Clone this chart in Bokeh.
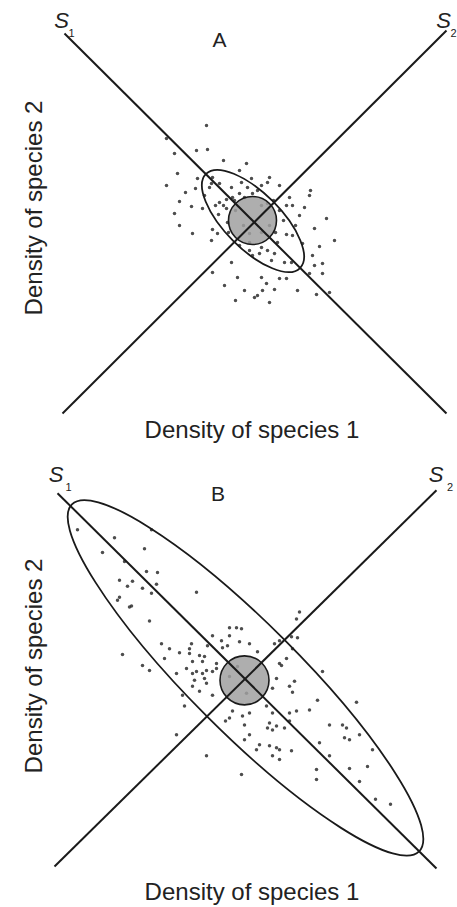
from bokeh.plotting import figure
from bokeh.models import Range1d, FixedTicker
from bokeh.layouts import column
from bokeh.core.properties import value
from bokeh.embed import file_html
from bokeh.resources import INLINE

# ---------------- data (arbitrary density units) ----------------
AXIS_X_LABEL = "Density of species 1"
AXIS_Y_LABEL = "Density of species 2"

# Panel A
a_s1_x = [3.6, 80.0]
a_s1_y = [76.4, 0.4]
a_s2_x = [80.0, 3.2]
a_s2_y = [77.0, 0.4]
a_ell = dict(x=41.3, y=38.9, w=26.6, h=11.2, angle=-45)
a_circ = dict(x=41.2, y=39.0, r=4.8)
a_pts_x = [32.0, 24.0, 32.2, 30.0, 25.6, 35.4, 40.0, 38.6, 26.2, 24.0, 33.2, 32.6, 39.0,
           26.6, 29.0, 31.2, 25.6, 34.6, 36.0, 37.2, 40.2, 41.2, 52.6, 48.6, 51.6, 48.0,
           56.0, 53.6, 57.6, 54.6, 53.2, 55.2, 55.2, 53.6, 37.0, 33.2, 38.2, 35.6, 43.0,
           44.0, 45.6, 48.0, 42.2, 50.2, 54.0, 52.6, 56.6, 46.6, 43.2, 48.0, 49.2, 51.2,
           44.2, 45.6, 45.0, 47.6, 49.0, 42.6, 46.2, 43.0, 44.6, 46.6, 44.2, 52.8, 49.2,
           29.2, 33.2, 33.0, 34.2, 41.6, 40.6, 41.2, 37.6, 38.6, 39.6, 43.0, 44.2, 42.2,
           37.8, 39.4, 40.6, 43.0, 44.6, 36.2, 35.4, 37.0, 41.0, 43.0, 45.4, 46.6, 47.4,
           45.8, 38.6, 40.6, 34.4, 36.4, 36.0, 33.8, 31.6, 33.0, 29.8, 30.2, 34.6, 44.6,
           37.8, 39.6, 50.6, 49.8, 26.6, 27.8]
a_pts_y = [58.0, 55.4, 53.2, 53.0, 52.4, 51.0, 50.4, 49.0, 48.4, 46.0, 47.6, 45.6, 46.6,
           42.8, 41.8, 41.4, 40.4, 42.6, 41.4, 43.6, 45.6, 44.4, 44.0, 43.6, 41.6, 42.0,
           39.4, 37.4, 35.0, 33.8, 32.0, 30.4, 28.4, 30.0, 30.6, 28.6, 27.6, 26.0, 27.6,
           26.4, 25.2, 27.4, 24.0, 25.0, 24.2, 28.4, 24.6, 27.4, 25.0, 36.2, 36.0, 34.4,
           33.0, 32.4, 31.0, 30.6, 30.6, 32.4, 34.6, 33.6, 47.6, 46.0, 46.6, 45.0, 42.0,
           36.4, 37.2, 35.0, 36.4, 23.6, 33.0, 32.0, 43.0, 44.4, 43.6, 42.0, 42.4, 45.0,
           41.0, 38.0, 36.4, 36.6, 38.0, 38.6, 42.0, 45.6, 47.4, 46.0, 43.0, 41.0, 39.0,
           36.6, 34.0, 34.6, 40.2, 36.6, 43.2, 42.0, 44.0, 46.4, 45.4, 47.4, 46.4, 22.6,
           23.0, 25.0, 40.0, 38.0, 38.0, 44.6]

# Panel B
b_s1_x = [2.2, 78.0]
b_s1_y = [76.4, 0.6]
b_s2_x = [78.0, 1.6]
b_s2_y = [77.0, 1.0]
b_ell = dict(x=39.8, y=39.1, w=98.2, h=22.0, angle=-45)
b_circ = dict(x=39.6, y=38.6, r=4.9)
b_pts_x = [6.2, 13.6, 21.0, 11.2, 19.6, 15.6, 20.0, 22.2, 14.6, 17.2, 16.2, 19.2, 22.0,
           21.0, 30.0, 14.6, 14.2, 17.0, 20.6, 36.6, 38.0, 39.0, 33.2, 36.6, 35.0, 38.6,
           23.0, 24.6, 29.0, 32.2, 35.2, 26.6, 28.6, 30.6, 31.6, 15.2, 23.6, 29.2, 31.2,
           34.0, 19.2, 20.6, 30.0, 32.0, 26.0, 40.6, 36.2, 42.2, 28.6, 34.0, 28.0, 29.2,
           31.2, 33.2, 29.6, 31.6, 32.0, 29.2, 33.2, 27.2, 30.6, 27.6, 37.2, 39.2, 36.6,
           40.6, 44.0, 45.2, 46.6, 48.0, 46.6, 49.0, 50.2, 49.2, 45.2, 48.6, 50.0, 52.6,
           54.2, 49.6, 48.6, 46.0, 50.0, 55.2, 44.6, 46.0, 49.2, 62.0, 48.6, 39.6, 44.2,
           45.2, 59.2, 60.0, 62.6, 40.6, 39.6, 59.6, 60.6, 54.6, 44.6, 46.0, 46.6, 42.0,
           42.6, 49.0, 65.2, 56.6, 45.2, 46.6, 39.0, 54.0, 54.0, 64.2, 60.6, 62.6, 65.8,
           68.8, 32.0, 26.0, 35.8, 47.6, 50.6, 45.6, 47.0, 56.6, 16.6, 36.6, 40.0, 38.2]
b_pts_y = [69.0, 67.4, 69.0, 64.4, 65.2, 62.6, 60.6, 60.4, 58.8, 58.6, 57.6, 57.2, 58.0,
           56.2, 56.4, 55.4, 54.8, 53.6, 50.6, 49.2, 49.2, 49.0, 47.6, 47.6, 46.6, 46.4,
           46.0, 45.0, 46.0, 45.6, 45.2, 44.2, 44.0, 43.6, 43.4, 43.8, 43.0, 42.4, 42.4,
           42.0, 41.6, 40.6, 40.4, 40.6, 40.0, 46.0, 45.6, 44.4, 45.0, 41.0, 41.0, 40.0,
           40.0, 40.4, 38.6, 39.0, 38.0, 37.4, 35.6, 35.6, 36.4, 33.4, 32.4, 31.4, 31.0,
           32.0, 33.4, 37.0, 42.0, 43.0, 46.6, 47.4, 47.2, 45.0, 32.0, 32.0, 32.4, 32.6,
           34.6, 38.4, 37.4, 39.0, 51.0, 40.4, 30.0, 29.4, 36.2, 34.2, 30.4, 29.6, 29.0,
           28.6, 29.6, 29.0, 27.6, 27.6, 26.6, 27.0, 26.6, 26.0, 25.4, 25.0, 24.6, 24.6,
           25.6, 24.4, 24.6, 23.4, 23.4, 22.6, 19.6, 20.6, 18.6, 21.2, 20.8, 18.2, 14.6,
           13.6, 23.4, 27.6, 30.4, 29.0, 52.4, 46.0, 41.6, 29.6, 53.4, 39.4, 36.0, 41.4]

# label positions (data units)
a_labels = dict(letter="A", letter_xy=(34.6, 75.2),
                s_xy=[(3.0, 79.0), (79.4, 79.0)], sub_xy=[(5.0, 76.6), (81.4, 76.6)])
b_labels = dict(letter="B", letter_xy=(34.3, 76.4),
                s_xy=[(1.9, 80.2), (77.9, 80.2)], sub_xy=[(4.4, 77.6), (80.7, 77.6)])

FONT = "Liberation Sans"
INK = "#1a1a1a"


def make_panel(height, top, bottom, xlab_standoff, s1x, s1y, s2x, s2y, ell, circ,
               px, py, labels):
    p = figure(width=457, height=height, output_backend="svg", toolbar_location=None,
               x_range=Range1d(0, 82.2), y_range=Range1d(0, 83),
               min_border_left=46, min_border_right=0,
               min_border_top=top, min_border_bottom=bottom)
    p.outline_line_color = None
    p.grid.visible = False
    p.background_fill_color = "white"
    for ax in (p.xaxis[0], p.yaxis[0]):
        ax.ticker = FixedTicker(ticks=[])
        ax.axis_line_color = None
        ax.major_tick_line_color = None
        ax.minor_tick_line_color = None
        ax.major_tick_out = 0
        ax.major_label_standoff = 0
        ax.major_label_text_font_size = "0px"
        ax.axis_label_text_font = FONT
        ax.axis_label_text_font_size = "24px"
        ax.axis_label_text_font_style = "normal"
        ax.axis_label_text_color = "#222222"
    p.xaxis.axis_label = AXIS_X_LABEL
    p.yaxis.axis_label = AXIS_Y_LABEL
    p.xaxis.axis_label_standoff = xlab_standoff
    p.yaxis.axis_label_standoff = 0

    # scatter of population densities
    p.scatter(px, py, size=3.5, marker="circle", fill_color="#2e2e2e",
              line_color=None, fill_alpha=0.85)
    # equilibrium region
    p.ellipse(x=[ell["x"]], y=[ell["y"]], width=[ell["w"]], height=[ell["h"]],
              angle=[ell["angle"]], angle_units="deg", fill_color=None,
              line_color=INK, line_width=1.8)
    p.circle(x=[circ["x"]], y=[circ["y"]], radius=circ["r"], fill_color="#a0a0a0",
             fill_alpha=0.85, line_color=INK, line_width=1.6)
    # isocline axes S1, S2
    p.line(s1x, s1y, line_color=INK, line_width=2.0)
    p.line(s2x, s2y, line_color=INK, line_width=2.0)

    # labels
    p.text(x=[labels["letter_xy"][0]], y=[labels["letter_xy"][1]], text=[labels["letter"]],
           text_font=value(FONT), text_font_size="21px", text_align="center",
           text_baseline="middle", text_color="#222222")
    p.text(x=[c[0] for c in labels["s_xy"]], y=[c[1] for c in labels["s_xy"]],
           text=["S", "S"], text_font=value(FONT), text_font_size="22px",
           text_font_style="italic", text_align="center", text_baseline="middle",
           text_color="#222222")
    p.text(x=[c[0] for c in labels["sub_xy"]], y=[c[1] for c in labels["sub_xy"]],
           text=["1", "2"], text_font=value(FONT), text_font_size="11px",
           text_align="center", text_baseline="middle", text_color="#222222")
    return p


pa = make_panel(445, 0, 30, 0, a_s1_x, a_s1_y, a_s2_x, a_s2_y, a_ell, a_circ,
                a_pts_x, a_pts_y, a_labels)
pb = make_panel(462, 15, 32, 6, b_s1_x, b_s1_y, b_s2_x, b_s2_y, b_ell, b_circ,
                b_pts_x, b_pts_y, b_labels)

layout = column(pa, pb, spacing=0)
open("out.html", "w").write(file_html(layout, INLINE))
